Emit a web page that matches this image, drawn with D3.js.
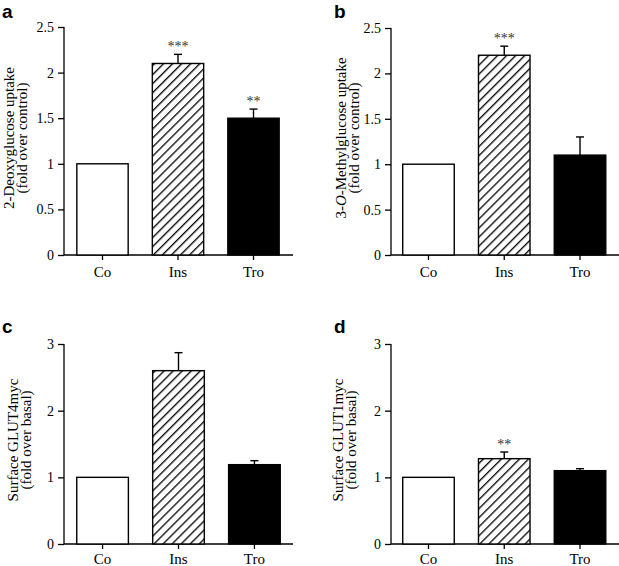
<!DOCTYPE html>
<html><head><meta charset="utf-8">
<script src="https://cdn.jsdelivr.net/npm/d3@7"></script>
<style>body{margin:0;background:#fff}svg{display:block}</style>
</head><body>
<svg id="c" width="619" height="566"></svg>
<script>
const categories = ["Co", "Ins", "Tro"];
const valuesA = [1.0, 2.1, 1.5];
const errorsA = [0, 0.1, 0.1];
const starsA = ["", "***", "**"];
const valuesB = [1.0, 2.2, 1.1];
const errorsB = [0, 0.1, 0.2];
const starsB = ["", "***", ""];
const valuesC = [1.0, 2.6, 1.19];
const errorsC = [0, 0.27, 0.06];
const starsC = ["", "", ""];
const valuesD = [1.0, 1.28, 1.1];
const errorsD = [0, 0.1, 0.03];
const starsD = ["", "**", ""];
const ticksAB = [0, 0.5, 1, 1.5, 2, 2.5];
const tickLabelsAB = ["0", "0.5", "1", "1.5", "2", "2.5"];
const ticksCD = [0, 1, 2, 3];
const tickLabelsCD = ["0", "1", "2", "3"];

const svg = d3.select("#c");
const defs = svg.append("defs");
const pat = defs.append("pattern").attr("id", "hatch")
  .attr("patternUnits", "userSpaceOnUse").attr("width", 6.4).attr("height", 10)
  .attr("patternTransform", "rotate(45)");
pat.append("rect").attr("width", 6.4).attr("height", 10).attr("fill", "#fff");
pat.append("line").attr("x1", 0.7).attr("y1", 0).attr("x2", 0.7).attr("y2", 10)
  .attr("stroke", "#000").attr("stroke-width", 1.3);

const fills = ["#fff", "url(#hatch)", "#000"];
const serif = "'Liberation Serif', 'Times New Roman', serif";

function panel(cfg) {
  const g = svg.append("g");
  const y = d3.scaleLinear().domain([0, cfg.ymax]).range([cfg.y0, cfg.ytop]);
  const x = d3.scaleBand().domain(categories).range(cfg.xr).paddingInner(0.32).paddingOuter(0.16);

  // y axis
  const ya = d3.axisLeft(y).tickValues(cfg.ticks).tickFormat((d, i) => cfg.tickLabels[i])
    .tickSize(6).tickPadding(4);
  const yg = g.append("g").attr("transform", `translate(${cfg.ax},0)`).call(ya);
  yg.select(".domain").attr("d", `M-0,${cfg.ytop}V${cfg.y0}`).attr("stroke-width", 1.3);
  yg.selectAll(".tick line").attr("stroke-width", 1.3);
  yg.selectAll("text").attr("font-family", serif).attr("font-size", 14).attr("fill", "#000");

  // x axis
  const xa = d3.axisBottom(x).tickSize(5).tickPadding(cfg.xpad);
  const xg = g.append("g").attr("transform", `translate(0,${cfg.y0})`).call(xa);
  xg.select(".domain").attr("d", `M${cfg.ax},0H${cfg.xend}`).attr("stroke-width", 1.3);
  xg.selectAll(".tick line").attr("stroke-width", 1.3);
  xg.selectAll("text").attr("font-family", serif).attr("font-size", 15).attr("fill", "#000");

  // bars
  g.selectAll("rect.bar").data(cfg.values).enter().append("rect")
    .attr("x", (d, i) => x(categories[i]))
    .attr("y", d => y(d))
    .attr("width", x.bandwidth())
    .attr("height", d => cfg.y0 - y(d))
    .attr("fill", (d, i) => fills[i])
    .attr("stroke", "#000").attr("stroke-width", 1.4);

  // error bars
  cfg.values.forEach((v, i) => {
    const e = cfg.errors[i];
    if (!e) return;
    const cx = x(categories[i]) + x.bandwidth() / 2;
    g.append("line").attr("x1", cx).attr("x2", cx).attr("y1", y(v)).attr("y2", y(v + e))
      .attr("stroke", "#000").attr("stroke-width", 1.4);
    g.append("line").attr("x1", cx - 4).attr("x2", cx + 4).attr("y1", y(v + e)).attr("y2", y(v + e))
      .attr("stroke", "#000").attr("stroke-width", 1.4);
  });

  // significance
  cfg.stars.forEach((s, i) => {
    if (!s) return;
    const cx = x(categories[i]) + x.bandwidth() / 2;
    g.append("text").attr("x", cx).attr("y", y(cfg.values[i] + cfg.errors[i]) - 3)
      .attr("text-anchor", "middle").attr("font-family", serif).attr("font-size", 14)
      .attr("fill", "#333").text(s);
  });

  // y title
  const t = g.append("g");
  cfg.title.forEach((line, k) => {
    const tx = t.append("text")
      .attr("transform", `translate(${cfg.tx[k]},${cfg.ty}) rotate(-90)`)
      .attr("text-anchor", "middle").attr("dominant-baseline", "central")
      .attr("font-family", serif).attr("font-size", 15).attr("fill", "#000");
    line.forEach(seg => {
      tx.append("tspan").attr("font-style", seg.italic ? "italic" : "normal").text(seg.t);
    });
  });

  // panel letter
  g.append("text").attr("x", cfg.lx).attr("y", cfg.ly)
    .attr("font-family", "'Liberation Sans', Arial, sans-serif").attr("font-weight", "bold")
    .attr("font-size", 19).attr("fill", "#000").text(cfg.letter);
}

panel({letter: "a", lx: 2, ly: 18, values: valuesA, errors: errorsA, stars: starsA,
  ymax: 2.5, ticks: ticksAB, tickLabels: tickLabelsAB, y0: 255, ytop: 27, xpad: 6,
  ax: 64, xend: 293, xr: [64.75, 291.25], tx: [9, 22], ty: 138,
  title: [[{t: "2-Deoxyglucose uptake"}], [{t: "(fold over control)"}]]});

panel({letter: "b", lx: 334, ly: 18, values: valuesB, errors: errorsB, stars: starsB,
  ymax: 2.5, ticks: ticksAB, tickLabels: tickLabelsAB, y0: 255, ytop: 28, xpad: 6,
  ax: 391, xend: 619, xr: [390.6, 617.9], tx: [341, 354], ty: 138,
  title: [[{t: "3-"}, {t: "O", italic: true}, {t: "-Methylglucose uptake"}], [{t: "(fold over control)"}]]});

panel({letter: "c", lx: 2, ly: 333, values: valuesC, errors: errorsC, stars: starsC,
  ymax: 3, ticks: ticksCD, tickLabels: tickLabelsCD, y0: 544, ytop: 344, xpad: 4,
  ax: 64, xend: 293, xr: [64.6, 292.4], tx: [13, 26], ty: 440,
  title: [[{t: "Surface GLUT4myc"}], [{t: "(fold over basal)"}]]});

panel({letter: "d", lx: 334, ly: 333, values: valuesD, errors: errorsD, stars: starsD,
  ymax: 3, ticks: ticksCD, tickLabels: tickLabelsCD, y0: 544, ytop: 344, xpad: 4,
  ax: 391, xend: 619, xr: [390.6, 617.9], tx: [338, 351], ty: 440,
  title: [[{t: "Surface GLUT1myc"}], [{t: "(fold over basal)"}]]});
</script>
</body></html>
